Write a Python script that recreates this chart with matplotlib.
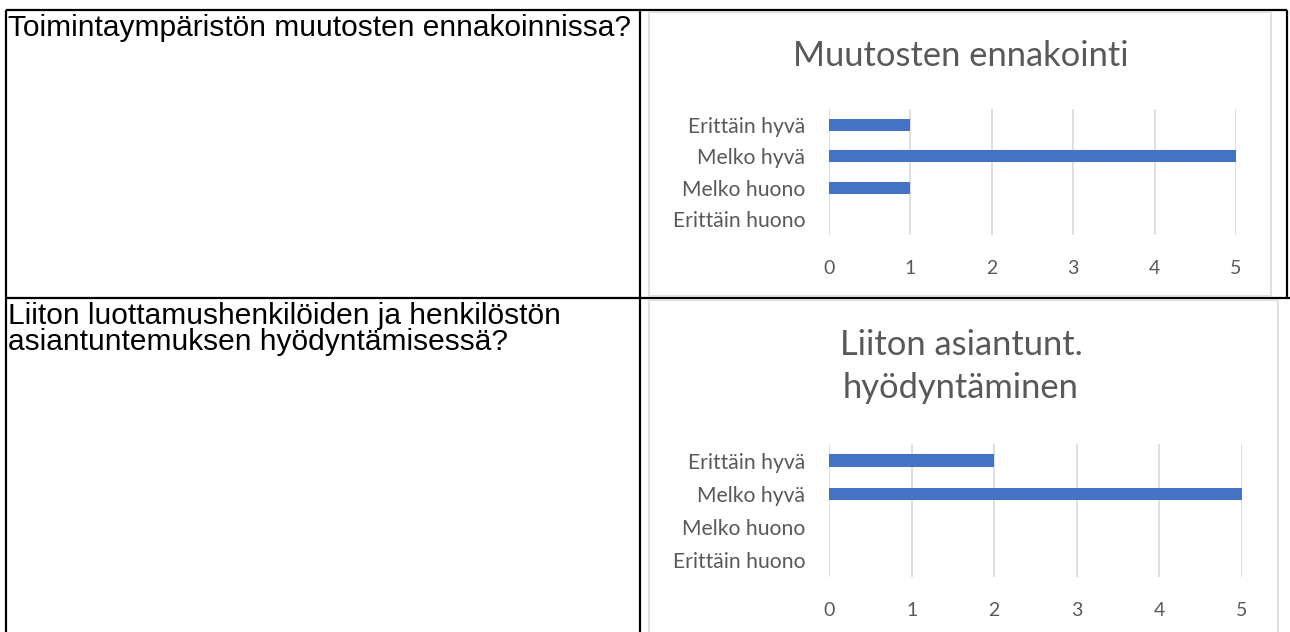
import matplotlib
matplotlib.use("Agg")
import matplotlib.pyplot as plt
from matplotlib.lines import Line2D
from matplotlib.patches import Rectangle

W, H = 1290, 632

categories = ["Erittäin huono", "Melko huono", "Melko hyvä", "Erittäin hyvä"]
values_1 = [0, 1, 5, 1]
values_2 = [0, 0, 5, 2]
title_1 = ["Muutosten ennakointi"]
title_2 = ["Liiton asiantunt.", "hyödyntäminen"]
question_1 = ["Toimintaympäristön muutosten ennakoinnissa?"]
question_2 = ["Liiton luottamushenkilöiden ja henkilöstön", "asiantuntemuksen hyödyntämisessä?"]
x_ticks = [0, 1, 2, 3, 4, 5]

BAR = "#4472C4"
GRID = "#D9D9D9"
TXT = "#595959"
CHART_FONT = ["Lato", "DejaVu Sans"]

fig = plt.figure(figsize=(W / 100, H / 100), dpi=100)
fig.patch.set_facecolor("white")


def fx(x):
    return x / W


def fy(y):
    return 1 - y / H


def hline(x0, x1, y, lw=1.6, color="black"):
    fig.add_artist(Line2D([fx(x0), fx(x1)], [fy(y), fy(y)], transform=fig.transFigure,
                          color=color, lw=lw, solid_capstyle="butt"))


def vline(x, y0, y1, lw=1.6, color="black"):
    fig.add_artist(Line2D([fx(x), fx(x)], [fy(y0), fy(y1)], transform=fig.transFigure,
                          color=color, lw=lw, solid_capstyle="butt"))


# table borders
hline(6, 1287, 10)
hline(6, 1290, 298)
vline(6, 10, 632)
vline(640, 10, 632)
vline(1287, 10, 298)

# chart boxes (white background covering table lines)
for (x0, y0, x1, y1) in [(649, 12, 1271, 296), (649, 300, 1278, 640)]:
    fig.add_artist(Rectangle((fx(x0), fy(y1)), fx(x1) - fx(x0), fy(y0) - fy(y1),
                             transform=fig.transFigure, facecolor="white",
                             edgecolor=GRID, lw=1.2, zorder=2))

# question texts
for lines, y_start in [(question_1, 28), (question_2, 316)]:
    for i, line in enumerate(lines):
        fig.text(fx(8), fy(y_start + 26 * i), line, fontsize=21.5, family=["Liberation Sans"],
                 color="black", va="center", ha="left")


def chart(values, title_lines, box, title_x, title_ys):
    x0, y0, x1, y1 = box
    ax = fig.add_axes([fx(x0), fy(y1), fx(x1) - fx(x0), fy(y0) - fy(y1)], zorder=5)
    ax.barh(range(len(categories)), values, height=0.38, color=BAR, zorder=3)
    ax.set_xlim(0, 5)
    ax.set_ylim(-0.5, len(categories) - 0.5)
    ax.set_xticks(x_ticks)
    ax.set_xticklabels([str(t) for t in x_ticks], family=CHART_FONT, fontsize=14, color=TXT)
    ax.set_yticks(range(len(categories)))
    ax.set_yticklabels(categories, family=CHART_FONT, fontsize=15.2, color=TXT)
    ax.tick_params(axis="both", length=0)
    ax.tick_params(axis="x", pad=18)
    ax.tick_params(axis="y", pad=17)
    ax.grid(axis="x", color=GRID, lw=1.2, zorder=0)
    for s in ax.spines.values():
        s.set_visible(False)
    ax.set_facecolor("none")
    for line, ty in zip(title_lines, title_ys):
        fig.text(fx(title_x), fy(ty), line, family=CHART_FONT,
                 fontsize=24.8, color=TXT, ha="center", va="center", zorder=6)
    return ax


chart(values_1, title_1, (829, 109, 1236, 235), 961, [56])
chart(values_2, title_2, (829, 444, 1242, 577), 961, [345, 388])

fig.savefig("out.png", dpi=100, facecolor="white")
